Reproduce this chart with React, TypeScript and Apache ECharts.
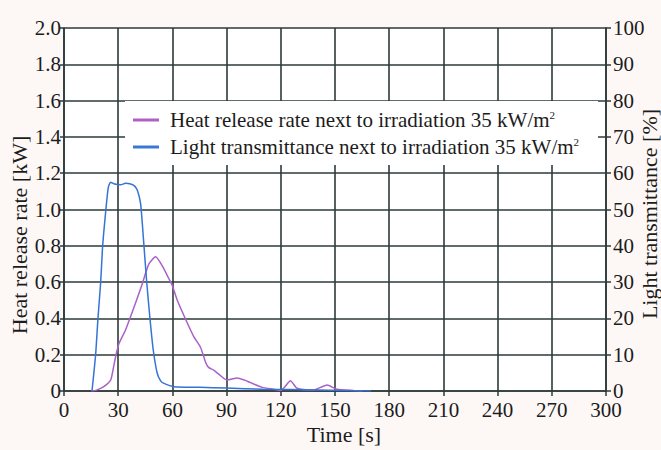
import React, { useEffect, useRef } from "react";
import * as echarts from "echarts";

const xTicks = [0, 30, 60, 90, 120, 150, 180, 210, 240, 270, 300];
const hrrTime = [15, 18, 22, 25.8, 27, 28.6, 30.4, 34, 38.7, 43.3, 47, 50.7, 54.4, 58, 60, 62.7, 68, 71.8, 75.6, 78.3, 80, 82.9, 86, 90.3, 95.8, 100, 103.2, 109.7, 116, 119.8, 122, 125.3, 129, 138, 142, 145.6, 151, 160, 165];
const hrrValue = [0, 0.005, 0.024, 0.06, 0.11, 0.19, 0.26, 0.335, 0.46, 0.59, 0.7, 0.74, 0.69, 0.62, 0.58, 0.5, 0.38, 0.3, 0.24, 0.16, 0.13, 0.115, 0.09, 0.06, 0.072, 0.06, 0.046, 0.02, 0.01, 0.003, 0.02, 0.057, 0.015, 0.005, 0.02, 0.033, 0.01, 0.003, 0];
const ltTime = [15.5, 17.5, 18.8, 20.3, 21.4, 23, 24.5, 25.8, 28, 31.3, 34, 36.9, 39, 40.6, 42.4, 43.9, 45.7, 47.5, 49.4, 51.6, 53.5, 55.3, 60.8, 75, 90, 110, 140, 170];
const ltValue = [0, 10, 20, 30, 40, 49, 56, 57.5, 57, 56.8, 57.2, 57, 56.5, 55.3, 51.6, 42.4, 30.5, 20.4, 11.3, 4.9, 2.8, 2.1, 1.2, 1.0, 0.8, 0.5, 0.3, 0];
const seriesNames = [
  "Heat release rate next to irradiation 35 kW/m",
  "Light transmittance next to irradiation 35 kW/m",
];

const FONT = "'Liberation Serif', 'Times New Roman', serif";
const GRID = "#2e3a3a";
const TXT = "#1c1c1c";

export default function App() {
  const ref = useRef<HTMLDivElement>(null);
  useEffect(() => {
    if (!ref.current) return;
    const chart = echarts.init(ref.current, undefined, { renderer: "svg" });
    const splitStyle = { color: GRID, width: 1.6 };
    chart.setOption({
      animation: false,
      backgroundColor: "#fdf8f6",
      textStyle: { fontFamily: FONT },
      grid: {
        left: 64,
        right: 55,
        top: 28,
        bottom: 59,
        show: true,
        backgroundColor: "#ffffff",
        borderWidth: 0,
      },
      xAxis: {
        type: "value",
        min: 0,
        max: 300,
        interval: 30,
        axisLine: { show: true, lineStyle: { color: GRID, width: 1.6 } },
        axisTick: { show: true, length: 5, lineStyle: { color: GRID, width: 1.5 } },
        axisLabel: {
          color: TXT,
          fontSize: 21,
          fontFamily: FONT,
          margin: 8,
          customValues: xTicks,
        },
        splitLine: { show: true, lineStyle: splitStyle },
      },
      yAxis: [
        {
          type: "value",
          min: 0,
          max: 2,
          interval: 0.2,
          position: "left",
          axisLine: { show: true, lineStyle: { color: GRID, width: 1.6 } },
          axisTick: { show: true, length: 4, lineStyle: { color: GRID, width: 1.5 } },
          axisLabel: {
            color: TXT,
            fontSize: 21,
            fontFamily: FONT,
            margin: 3,
            formatter: (v: number) => (v === 0 ? "0" : v.toFixed(1)),
          },
          splitLine: { show: true, lineStyle: splitStyle },
        },
        {
          type: "value",
          min: 0,
          max: 100,
          interval: 10,
          position: "right",
          axisLine: { show: true, lineStyle: { color: GRID, width: 1.6 } },
          axisTick: { show: true, length: 5, lineStyle: { color: GRID, width: 1.5 } },
          axisLabel: { color: TXT, fontSize: 21, fontFamily: FONT, margin: 7 },
          splitLine: { show: false },
        },
      ],
      legend: {
        orient: "vertical",
        left: 133,
        top: 109,
        z: 6,
        padding: 0,
        itemGap: 5,
        itemWidth: 26,
        itemHeight: 3,
        icon: "rect",
        data: seriesNames,
        formatter: (name: string) => name + "{sup|2}",
        textStyle: {
          color: TXT,
          fontSize: 21,
          fontFamily: FONT,
          lineHeight: 22,
          padding: [0, 0, 0, 6],
          rich: {
            sup: { fontSize: 11, fontFamily: FONT, color: TXT, verticalAlign: "top", lineHeight: 22 },
          },
        },
      },
      graphic: {
        z: 3,
        elements: [
          {
            type: "rect",
            z: 3,
            shape: { x: 125, y: 101, width: 473, height: 64 },
            style: { fill: "#ffffff" },
            silent: true,
          },
          {
            type: "text",
            z: 3,
            x: 19,
            y: 235,
            rotation: Math.PI / 2,
            style: {
              text: "Heat release rate [kW]",
              fontSize: 22,
              fontFamily: FONT,
              fill: TXT,
              align: "center",
              verticalAlign: "middle",
            },
          },
          {
            type: "text",
            z: 3,
            x: 649,
            y: 214,
            rotation: Math.PI / 2,
            style: {
              text: "Light transmittance [%]",
              fontSize: 22,
              fontFamily: FONT,
              fill: TXT,
              align: "center",
              verticalAlign: "middle",
            },
          },
          {
            type: "text",
            z: 3,
            x: 344,
            y: 434,
            style: {
              text: "Time [s]",
              fontSize: 22,
              fontFamily: FONT,
              fill: TXT,
              align: "center",
              verticalAlign: "middle",
            },
          },
        ],
      },
      series: [
        {
          name: seriesNames[0],
          type: "line",
          yAxisIndex: 0,
          symbol: "none",
          smooth: 0.2,
          lineStyle: { color: "#a862c8", width: 1.5 },
          itemStyle: { color: "#b060c4" },
          data: hrrTime.map((t, i) => [t, hrrValue[i]]),
        },
        {
          name: seriesNames[1],
          type: "line",
          yAxisIndex: 1,
          symbol: "none",
          smooth: 0.2,
          lineStyle: { color: "#3573d6", width: 1.5 },
          itemStyle: { color: "#3a78d8" },
          data: ltTime.map((t, i) => [t, ltValue[i]]),
        },
      ],
    });
    return () => chart.dispose();
  }, []);
  return (
    <div
      ref={ref}
      style={{ position: "absolute", left: 0, top: 0, width: 661, height: 450 }}
    />
  );
}
